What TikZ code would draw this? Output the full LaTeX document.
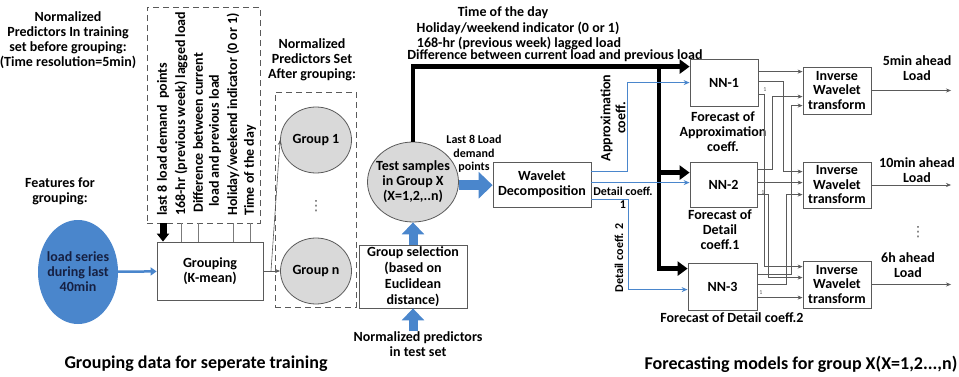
\documentclass[tikz,border=0pt]{standalone}
\usepackage{fontspec}
\setmainfont{Carlito}
\newfontfamily\dotsfont{DejaVu Sans}
\usetikzlibrary{arrows.meta,shapes.geometric}

\definecolor{wblue}{RGB}{74,134,204}
\definecolor{navy}{RGB}{22,32,66}
\definecolor{lgray}{RGB}{217,217,217}
\definecolor{dgray}{RGB}{90,90,90}

\newcommand{\lblfont}{\fontsize{14}{15}\selectfont\bfseries}
\newcommand{\smlfont}{\fontsize{12}{13.5}\selectfont\bfseries}
\newcommand{\midfont}{\fontsize{12}{13}\selectfont\bfseries}
\newcommand{\capfont}{\fontsize{18}{20}\selectfont\bfseries}

\tikzset{
  blockbox/.style={draw=dgray, fill=white, line width=0.8pt, align=center, inner sep=1pt},
  grp/.style={ellipse, draw=dgray, fill=lgray, line width=0.8pt, align=center, inner sep=0pt},
  txt/.style={align=center, inner sep=0pt},
  vtxt/.style={rotate=90, anchor=west, inner sep=0pt},
  dashbox/.style={draw=dgray, dash pattern=on 6pt off 4pt, line width=0.8pt, inner sep=0pt},
  wire/.style={draw=dgray, line width=0.6pt, -{Stealth[length=5pt,width=4pt]}},
  feed/.style={draw=dgray!80, line width=0.6pt},
  bluewire/.style={draw=wblue, line width=1pt, -{Stealth[length=6pt,width=5pt]}},
  bus/.style={draw=black, line width=4.5pt, -{Triangle[length=10pt,width=14pt]}},
  fatblue/.style={draw=wblue, line width=10pt, -{Triangle[length=14pt,width=26pt]}},
  upblue/.style={draw=wblue, line width=9pt, -{Triangle[length=12pt,width=22pt]}},
  vdotsnode/.style={txt, text=dgray, font=\dotsfont\fontsize{14}{14}\selectfont},
}

\begin{document}
\begin{tikzpicture}[x=1pt, y=-1pt, font=\lblfont]
\useasboundingbox (0,0) rectangle (959,377);

% grouping part
\node[txt] (predhead) at (68,40) {Normalized\\Predictors In training\\set before grouping:\\(Time resolution=5min)};
\node[dashbox, minimum width=113, minimum height=216] (featbox) at (203.5,115) {};
\node[vtxt] (f1) at (163,216) {last 8 load demand\ \ points};
\node[vtxt] (f2) at (181,216) {168-hr (previous week) lagged load};
\node[vtxt] (f3) at (198,213) {Difference between current};
\node[vtxt] (f3b) at (215,207) {load and previous load};
\node[vtxt] (f4) at (233,216) {Holiday/weekend indicator (0 or 1)};
\node[vtxt] (f5) at (250,216) {Time of the day};

\node[txt] (feathead) at (60,191) {Features for\\grouping:};
\node[ellipse, fill=wblue, text=navy, align=center, minimum width=80, minimum height=104, inner xsep=-9pt, inner ysep=0pt] (series) at (78,272) {load series\\during last\\40min};
\node[blockbox, minimum width=106, minimum height=58] (grouping) at (210,271) {Grouping\\(K-mean)};

\draw[draw=black, line width=7pt, -{Triangle[length=8pt,width=12pt]}] (featbox.south -| f1) -- (grouping.north -| f1);
\draw[feed] (featbox.south -| f2) -- (grouping.north -| f2);
\draw[feed] (featbox.south -| f3) -- (grouping.north -| f3);
\draw[feed] (featbox.south -| f4) -- (grouping.north -| f4);
\draw[feed] (featbox.south -| f5) -- (grouping.north -| f5);
\draw[draw=wblue, line width=2.5pt, -{Triangle[length=6pt,width=8pt]}] (series) -- (grouping);

\node[txt] (grphead) at (312,60) {Normalized\\Predictors Set\\After grouping:};
\node[dashbox, minimum width=81, minimum height=215] (grpbox) at (315.5,199.5) {};
\node[grp, minimum width=71, minimum height=66] (g1) at (316,140) {Group 1};
\node[grp, minimum width=71, minimum height=66] (gn) at (316,271) {Group n};
\node[vdotsnode] (gdots) at (316,206) {⋮};
\coordinate (split) at (271,271);
\draw[wire] (grouping.east) -- (gn.west);
\draw[wire] (split) -- (g1.west);

% test samples
\node[grp, minimum width=91, minimum height=80, inner xsep=-9pt] (test) at (413,182) {Test samples\\in Group X\\(X=1,2,..n)};
\node[blockbox, minimum width=108, minimum height=63, font=\fontsize{14}{16}\selectfont\bfseries] (gsel) at (413,276.5) {Group selection\\(based on\\Euclidean\\distance)};
\node[txt] (testpred) at (418,344) {Normalized predictors\\in test set};
\draw[upblue] (testpred.north -| gsel.south) -- (gsel.south);
\draw[upblue] (gsel.north) -- (test.south);

\node[blockbox, minimum width=98, minimum height=45] (wd) at (542,184.5) {Wavelet\\Decomposition};
\draw[fatblue] (test.-4) -- (test.-4 -| wd.west);
\node[txt, font=\smlfont] (lastlbl) at (474,154) {Last 8 Load\\demand\\points};

% forecasting part
\node[txt] (t1) at (503,13) {Time of the day};
\node[txt] (t2) at (518,28) {Holiday/weekend indicator (0 or 1)};
\node[txt] (t3) at (519,43) {168-hr (previous week) lagged load};
\node[txt] (t4) at (555,56) {Difference between current load and previous load};

\node[blockbox, minimum width=68, minimum height=47] (nn1) at (724,82.5) {NN-1};
\node[blockbox, minimum width=67, minimum height=45] (nn2) at (723.5,184.5) {NN-2};
\node[blockbox, minimum width=69, minimum height=47] (nn3) at (722.5,286.5) {NN-3};
\node[txt] (fc1) at (723,132) {Forecast of\\Approximation\\coeff.};
\node[txt] (fc2) at (720,230) {Forecast of\\Detail\\coeff.1};
\node[txt] (fc3) at (732,318) {Forecast of Detail coeff.2};

\coordinate (busx) at (659,67);
\draw[bus] (test.north) |- ([yshift=-8pt]nn1.north west);
\draw[bus] (busx) |- ([yshift=-11pt]nn2.north west);
\draw[bus] (busx) |- ([yshift=-6pt]nn3.north west);

\draw[bluewire] ([yshift=-10pt]wd.north east) -- ++(36,0) |- ([yshift=-24pt]nn1.north west);
\draw[bluewire] ([yshift=-21pt]wd.north east) -- ([yshift=-21pt]nn2.north west);
\draw[bluewire] ([yshift=-38pt]wd.north east) -- ++(37,0) |- ([yshift=-27pt]nn3.north west);
\node[txt, rotate=90] (apxlbl) at (613,118) {Approximation\\coeff.};
\node[txt, font=\smlfont] (d1lbl) at (623,198) {Detail coeff.\\1};
\node[txt, rotate=90, font=\midfont] (d2lbl) at (619,258) {Detail coeff. 2};

\node[blockbox, minimum width=68, minimum height=47, font=\fontsize{14}{14.5}\selectfont\bfseries] (iwt1) at (837,90.5) {Inverse\\Wavelet\\transform};
\node[blockbox, minimum width=68, minimum height=46, font=\fontsize{14}{14.5}\selectfont\bfseries] (iwt2) at (837,185) {Inverse\\Wavelet\\transform};
\node[blockbox, minimum width=68, minimum height=47, font=\fontsize{14}{14.5}\selectfont\bfseries] (iwt3) at (837,284.5) {Inverse\\Wavelet\\transform};

% nn outputs to inverse transforms
\draw[wire] ([yshift=-13pt]nn1.north east) -- ([yshift=-5pt]iwt1.north west);
\draw[wire] ([yshift=-23pt]nn1.north east) -- ++(25,0) |- ([yshift=-10pt]iwt2.north west);
\draw[wire] ([yshift=-36pt]nn1.north east) -- ++(6,0) |- ([yshift=-6pt]iwt3.north west);
\draw[wire] ([yshift=-8pt]nn2.north east) -- ++(15,0) |- ([yshift=-30pt]iwt1.north west);
\draw[wire] ([yshift=-21pt]nn2.north east) -- ([yshift=-21pt]iwt2.north west);
\draw[wire] ([yshift=-33pt]nn2.north east) -- ++(11,0) |- ([yshift=-17pt]iwt3.north west);
\draw[wire] ([yshift=-12pt]nn3.north east) -- ++(34,0) |- ([yshift=-39pt]iwt1.north west);
\draw[wire] ([yshift=-22pt]nn3.north east) -- ++(29,0) |- ([yshift=-33pt]iwt2.north west);
\draw[wire] ([yshift=-35pt]nn3.north east) -- ([yshift=-37pt]iwt3.north west);
\node[txt, font=\fontsize{6}{6}\selectfont, text=dgray] (one1) at (765,90) {1};
\node[txt, font=\fontsize{6}{6}\selectfont, text=dgray] (one2) at (763,193) {1};
\node[txt, font=\fontsize{6}{6}\selectfont, text=dgray] (one3) at (761,293) {1};

\coordinate (outx) at (951,0);
\draw[wire] (iwt1.east) -- (iwt1.east -| outx);
\draw[wire] (iwt2.east) -- (iwt2.east -| outx);
\draw[wire] (iwt3.east) -- (iwt3.east -| outx);
\node[txt] (o1) at (917,68) {5min ahead\\Load};
\node[txt] (o2) at (917,170) {10min ahead\\Load};
\node[txt] (o3) at (908,265) {6h ahead\\Load};
\node[vdotsnode] (odots) at (918,232) {⋮};

% captions
\node[txt, font=\capfont] (cap1) at (196,364) {Grouping data for seperate training};
\node[txt, font=\capfont] (cap2) at (801,364) {Forecasting models for group X(X=1,2...,n)};

\end{tikzpicture}
\end{document}
